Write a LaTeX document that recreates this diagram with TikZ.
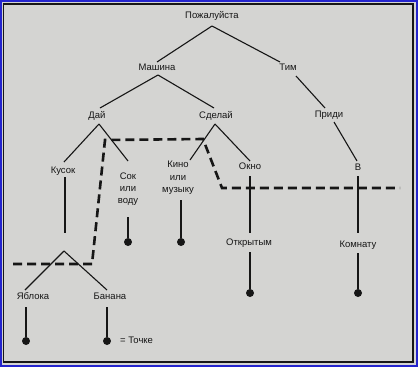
\documentclass[tikz,border=0pt]{standalone}
\usepackage{fontspec}
\setmainfont{Liberation Sans}
\definecolor{bgc}{RGB}{212,212,210}
\definecolor{bluec}{RGB}{36,36,205}
\definecolor{ink}{RGB}{22,22,22}
\begin{document}
\begin{tikzpicture}[x=1pt,y=-1pt,
  lbl/.style={font=\fontsize{9.5}{12.3}\selectfont, text=ink, inner sep=0pt, text height=7pt, text depth=2pt},
  mlbl/.style={font=\fontsize{9.5}{12.3}\selectfont, text=ink, inner sep=0pt, align=center},
  link/.style={draw=ink, line width=1.1pt},
  endpt/.style={circle, fill=ink, inner sep=0pt, minimum size=8pt},
  cutline/.style={draw=ink, line width=2.6pt, dash pattern=on 9pt off 5pt}]
\useasboundingbox (0,0) rectangle (418,367);
% frame
\fill[bluec] (0,0) rectangle (418,367);
\fill[bgc] (2,2) rectangle (416,365);
\draw[ink, line width=1.1pt] (3.5,4) rectangle (413,362);
% nodes
\node[lbl] (pozh) at (212,16) {Пожалуйста};
\node[lbl] (mash) at (157,68) {Машина};
\node[lbl] (tim) at (288,68) {Тим};
\node[lbl] (daj) at (97,116) {Дай};
\node[lbl] (sdel) at (216,116) {Сделай};
\node[lbl] (pridi) at (329,115) {Приди};
\node[lbl] (kusok) at (63,171) {Кусок};
\node[mlbl] (sok) at (128,189) {Сок\\или\\воду};
\node[mlbl] (kino) at (178,178) {Кино\\или\\музыку};
\node[lbl] (okno) at (250,167) {Окно};
\node[lbl] (v) at (358,168) {В};
\node[lbl] (otkr) at (249,243) {Открытым};
\node[lbl] (komn) at (358,245) {Комнату};
\node[lbl] (yabl) at (33,297) {Яблока};
\node[lbl] (banan) at (110,297) {Банана};
\node[lbl, anchor=west] (tochke) at (120,341) {= Точке};
\node[endpt] (d1) at (26,341) {};
\node[endpt] (d2) at (107,341) {};
\node[endpt] (d3) at (128,242) {};
\node[endpt] (d4) at (181,242) {};
\node[endpt] (d5) at (250,293) {};
\node[endpt] (d6) at (358,293) {};
\coordinate (kend) at (65,233);
\coordinate (fork) at (64,251);
% connectors
\draw[link] ([yshift=-10pt]pozh.center) -- ([yshift=6pt]mash.center);
\draw[link] ([yshift=-10pt]pozh.center) -- ([xshift=-8pt,yshift=6pt]tim.center);
\draw[link] ([xshift=1pt,yshift=-7pt]mash.center) -- ([xshift=3pt,yshift=8pt]daj.center);
\draw[link] ([xshift=1pt,yshift=-7pt]mash.center) -- ([xshift=-2pt,yshift=8pt]sdel.center);
\draw[link] ([xshift=8pt,yshift=-8pt]tim.center) -- ([xshift=-4pt,yshift=7pt]pridi.center);
\draw[link] ([xshift=2pt,yshift=-8pt]daj.center) -- ([xshift=1pt,yshift=9pt]kusok.center);
\draw[link] ([xshift=2pt,yshift=-8pt]daj.center) -- ([yshift=28pt]sok.center);
\draw[link] ([xshift=-1pt,yshift=-8pt]sdel.center) -- ([xshift=12pt,yshift=18pt]kino.center);
\draw[link] ([xshift=-1pt,yshift=-8pt]sdel.center) -- ([yshift=6pt]okno.center);
\draw[link] ([xshift=5pt,yshift=-7pt]pridi.center) -- ([xshift=-1pt,yshift=7pt]v.center);
\draw[link] ([xshift=2pt,yshift=-6pt]kusok.center) -- (kend);
\draw[link] ([yshift=-28pt]sok.center) -- (d3.north);
\draw[link] ([xshift=3pt,yshift=-22pt]kino.center) -- (d4.north);
\draw[link] ([yshift=-9pt]okno.center) -- ([xshift=1pt,yshift=10pt]otkr.center);
\draw[link] ([yshift=-8pt]v.center) -- ([yshift=12pt]komn.center);
\draw[link] ([xshift=1pt,yshift=-9pt]otkr.center) -- (d5.north);
\draw[link] ([yshift=-8pt]komn.center) -- (d6.north);
\draw[link] (fork) -- ([xshift=-8pt,yshift=7pt]yabl.center);
\draw[link] (fork) -- ([xshift=-3pt,yshift=7pt]banan.center);
\draw[link] ([xshift=-7pt,yshift=-10pt]yabl.center) -- (d1.north);
\draw[link] ([xshift=-3pt,yshift=-10pt]banan.center) -- (d2.north);
% dashed boundary
\draw[cutline] (13,264) -- (92,264) -- (105,140) -- (203,139) -- (222,188) -- (400,188);
\end{tikzpicture}
\end{document}
